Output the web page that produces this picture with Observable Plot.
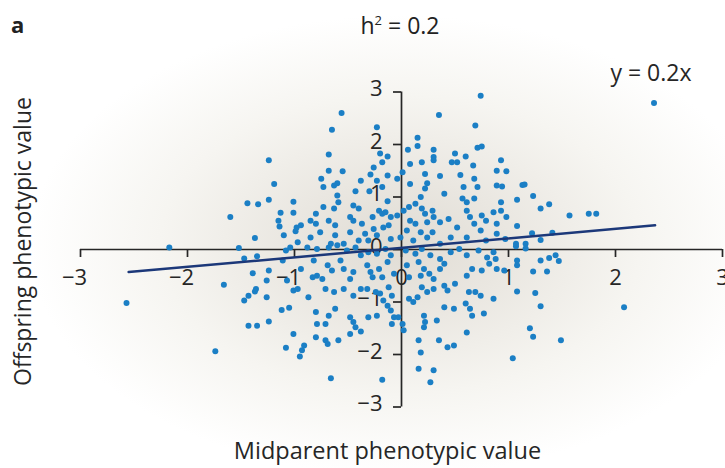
<!DOCTYPE html>
<html><head><meta charset="utf-8">
<script src="https://cdn.jsdelivr.net/npm/d3@7"></script>
<script src="https://cdn.jsdelivr.net/npm/@observablehq/plot@0.6"></script>
<style>
body{margin:0;}
#wrap{position:relative;width:725px;height:468px;overflow:hidden;
  background:radial-gradient(ellipse 370px 230px at 400px 245px,#e0dcd4 0%,#eae7e1 30%,#f6f5f1 65%,#ffffff 100%);
  font-family:"Open Sans",sans-serif;color:#222;}
#head{position:relative;height:40px;}
#panel{position:absolute;left:11px;top:13px;line-height:23px;font-weight:bold;font-size:22px;}
#title{position:absolute;left:0;width:800px;text-align:center;top:14px;line-height:23px;font-size:23px;}
#title sup{font-size:13px;vertical-align:9px;line-height:0;}
</style></head>
<body><div id="wrap"><div id="head"><span id="panel">a</span><div id="title">h<sup>2</sup> = 0.2</div></div><div id="chart"></div></div>
<script>
const midparent = [
-1.24,-1.19,-1.44,-1.34,-1.24,-1.01,-1.13,-1.01,-1.60,-1.15,
-1.14,-0.98,-0.99,-1.10,-1.37,-2.17,-1.52,-0.97,-1.04,-1.47,
-1.35,-1.08,-1.11,-1.39,-1.24,-1.26,-1.07,-1.66,-1.36,-1.37,
-1.43,-1.47,-1.26,-1.01,-0.97,-2.57,-1.12,-1.05,-1.43,-1.35,
-1.24,-1.01,-1.08,-0.95,-1.74,1.07,1.16,1.08,1.08,1.30,
1.38,1.44,1.47,0.96,1.23,1.36,1.08,1.25,1.30,2.08,
1.20,1.23,1.49,1.04,2.36,0.93,0.98,0.94,1.13,1.15,
1.23,1.08,0.93,1.30,1.38,0.93,0.98,1.57,1.75,1.82,
1.08,1.22,1.41,1.30,1.07,1.16,0.97,-0.56,0.74,0.35,
-0.65,-0.23,0.69,0.15,0.15,0.06,0.30,0.30,0.30,0.50,
0.47,0.52,0.60,0.71,0.75,0.67,-0.68,-0.20,-0.13,-0.18,
0.08,0.19,0.01,-0.26,-0.29,-0.13,-0.55,-0.68,-0.75,0.22,
0.36,0.55,0.68,0.89,-0.38,-0.23,-0.04,-0.73,-0.63,-0.60,
-0.43,-0.30,-0.18,-0.13,0.08,0.24,0.22,0.18,0.40,0.58,
0.71,0.68,0.57,0.61,0.89,-0.60,-0.59,-0.73,-0.80,-0.85,
-0.80,-0.76,-0.68,-0.63,-0.62,-0.45,-0.40,-0.48,-0.45,-0.37,
-0.27,-0.21,-0.18,-0.15,-0.26,-0.17,-0.12,-0.10,-0.04,-0.48,
-0.62,-0.34,0.02,0.07,0.13,0.19,0.22,0.29,0.30,0.08,
0.13,0.24,0.05,0.18,0.29,0.36,0.44,0.52,0.61,0.64,
0.68,0.75,0.79,0.86,0.89,0.74,0.46,0.61,0.79,0.89,
-0.01,-0.10,-0.23,-0.31,-0.40,-0.54,-0.66,-0.85,-0.94,0.36,
0.11,0.24,-0.88,-0.79,-0.68,-0.60,-0.51,-0.43,-0.38,-0.31,
-0.23,-0.15,-0.10,0.04,0.13,0.19,0.27,0.36,0.46,0.54,
0.61,0.72,0.80,0.86,-0.94,-0.82,-0.79,-0.69,-0.65,-0.57,
-0.54,-0.48,-0.45,-0.32,-0.29,-0.27,-0.21,-0.18,-0.13,-0.07,
0.05,0.07,0.16,0.21,0.18,0.26,0.30,0.36,0.40,0.50,
0.61,0.66,0.75,0.82,0.88,0.89,-0.83,-0.74,-0.71,-0.63,
-0.54,-0.87,-0.45,-0.38,-0.32,-0.24,-0.20,-0.12,-0.09,-0.17,
-0.13,0.07,0.11,0.15,0.19,0.24,0.30,0.40,0.43,0.63,
0.69,0.74,0.86,0.40,0.49,0.60,0.64,0.66,0.77,0.21,
0.22,0.21,0.33,0.61,-0.62,-0.68,-0.80,-0.79,-0.71,-0.48,
-0.45,-0.43,-0.48,-0.38,-0.31,-0.23,-0.10,-0.07,-0.09,-0.03,
0.01,0.02,-0.80,-0.71,-0.69,-0.59,-0.91,-0.93,0.16,0.18,
0.35,0.43,0.49,0.16,0.30,-0.66,-0.18,0.27
];
const offspring = [
1.70,1.25,0.88,0.86,0.95,0.91,0.70,0.70,0.62,0.55,
0.44,0.42,0.35,0.27,0.22,0.04,0.03,0.14,0.04,-0.17,
-0.13,-0.02,-0.21,-0.45,-0.40,-0.59,-0.59,-0.67,-0.75,-0.80,
-0.88,-0.97,-0.91,-0.78,-0.75,-1.02,-1.15,-1.11,-1.45,-1.45,
-1.37,-1.61,-1.87,-2.04,-1.94,0.06,0.02,-0.21,-0.30,-0.21,
-0.16,-0.11,-0.22,-0.40,-0.42,-0.42,-0.80,-0.83,-1.08,-1.10,
-1.50,-1.66,-1.73,-2.07,2.79,1.70,1.49,1.20,1.23,1.24,
1.02,0.95,0.90,0.78,0.86,0.74,0.62,0.65,0.68,0.68,
0.45,0.31,0.32,0.18,0.11,0.11,0.20,2.60,2.93,2.56,
2.28,2.33,2.36,2.13,1.97,1.90,1.90,1.76,1.70,1.83,
1.66,1.66,1.77,1.94,1.96,1.60,1.81,1.83,1.77,1.66,
1.63,1.66,1.47,1.56,1.43,1.41,1.49,1.50,1.35,1.44,
1.40,1.42,1.35,1.50,1.31,1.31,1.35,1.19,1.22,1.26,
1.11,1.11,1.19,0.92,1.25,1.26,1.16,1.00,1.06,1.19,
1.19,0.97,0.97,0.90,1.22,1.03,0.90,0.81,0.68,0.55,
0.49,0.33,0.55,0.78,0.46,0.84,0.78,0.62,0.55,0.49,
0.62,0.74,0.68,0.71,0.39,0.42,0.46,0.62,0.65,0.33,
0.27,0.30,0.74,0.81,0.87,0.78,0.68,0.74,0.62,0.55,
0.49,0.52,0.36,0.33,0.33,0.52,0.58,0.42,0.74,0.62,
0.49,0.65,0.55,0.71,0.49,0.36,0.23,0.23,0.17,0.30,
0.23,0.20,0.27,0.17,0.17,0.11,0.11,0.23,0.46,0.11,
0.17,0.23,0.04,0.01,0.04,0.08,-0.02,0.04,-0.11,-0.05,
-0.08,0.01,-0.11,-0.02,-0.08,0.01,-0.11,-0.18,-0.05,0.01,
-0.11,-0.02,-0.15,-0.05,-0.37,-0.21,-0.50,-0.30,-0.40,-0.21,
-0.37,-0.56,-0.43,-0.30,-0.43,-0.53,-0.37,-0.53,-0.24,-0.46,
-0.30,-0.53,-0.24,-0.37,-0.50,-0.46,-0.56,-0.37,-0.27,-0.65,
-0.50,-0.37,-0.40,-0.27,-0.18,-0.37,-0.53,-0.56,-0.75,-0.81,
-0.75,-0.91,-0.88,-0.75,-0.75,-0.81,-0.84,-0.72,-0.88,-0.97,
-1.07,-0.94,-1.00,-0.91,-0.72,-0.81,-0.75,-0.69,-0.78,-0.81,
-0.81,-0.88,-0.94,-1.10,-1.13,-1.03,-1.13,-1.26,-1.22,-1.26,
-1.38,-1.48,-1.35,-1.58,-1.13,-1.26,-1.19,-1.42,-1.42,-1.29,
-1.38,-1.48,-1.61,-1.56,-1.29,-1.26,-1.16,-1.29,-1.42,-1.29,
-1.42,-1.54,-1.67,-1.73,-1.80,-1.73,-1.83,-1.92,-1.73,-1.96,
-1.73,-1.86,-1.83,-2.27,-2.30,-2.45,-2.48,-2.53
];
const xTicks = [-3,-2,-1,0,1,2,3];
const yTicks = [-3,-2,-1,0,1,2,3];
const fitX = [-2.55, 2.37];
const fitY = [-0.43, 0.46];
const xLabel = "Midparent phenotypic value";
const yLabel = "Offspring phenotypic value";
const fitLabel = "y = 0.2x";

const points = midparent.map((x, i) => ({x, y: offspring[i]}));
const fit = fitX.map((x, i) => ({x, y: fitY[i]}));
const fmt = d => d < 0 ? "\u2212" + Math.abs(d) : String(d);
const ink = "#262626";
const tickFont = 22;

const chart = Plot.plot({
  width: 725, height: 428,
  marginLeft: 80, marginRight: 3, marginTop: 51.5, marginBottom: 61.5,
  x: {domain: [-3, 3], axis: null},
  y: {domain: [-3, 3], axis: null},
  style: {background: "transparent", fontFamily: "'Open Sans', sans-serif", overflow: "visible", color: ink},
  marks: [
    Plot.ruleY([0], {x1: -3, x2: 3, stroke: ink, strokeWidth: 1.7}),
    Plot.ruleX([0], {y1: -3, y2: 3, stroke: ink, strokeWidth: 1.7}),
    Plot.ruleX(xTicks, {x: d => d, y1: 0, y2: 0, insetBottom: -8, stroke: ink, strokeWidth: 1.7}),
    Plot.ruleY(yTicks, {y: d => d, x1: 0, x2: 0, insetLeft: -8, stroke: ink, strokeWidth: 1.7}),
    Plot.text(xTicks.filter(d => d >= 0), {x: d => d, y: 0, text: fmt, dy: 28, fontSize: tickFont, fill: ink}),
    Plot.text(xTicks.filter(d => d < 0), {x: d => d, y: 0, text: fmt, dx: -6, dy: 28, fontSize: tickFont, fill: ink}),
    Plot.text(yTicks, {y: d => d, x: 0, text: fmt, dx: -19, dy: -3, textAnchor: "end", fontSize: tickFont, fill: ink}),
    Plot.dot(points, {x: "x", y: "y", r: 3, fill: "#1b7fc5", stroke: "none"}),
    Plot.line(fit, {x: "x", y: "y", stroke: "#1c3879", strokeWidth: 2.5}),
    Plot.text([fitLabel], {frameAnchor: "top-right", textAnchor: "end", lineAnchor: "middle", dx: -31, dy: -18, fontSize: 23, fill: ink}),
    Plot.text([xLabel], {frameAnchor: "bottom", textAnchor: "middle", lineAnchor: "middle", dx: -14, dy: 44, fontSize: 23.5, fill: ink}),
    Plot.text([yLabel], {frameAnchor: "left", textAnchor: "middle", lineAnchor: "middle", rotate: -90, dx: -57, dy: -8, fontSize: 23, fill: ink})
  ]
});
document.getElementById("chart").appendChild(chart);
</script>
</body></html>
